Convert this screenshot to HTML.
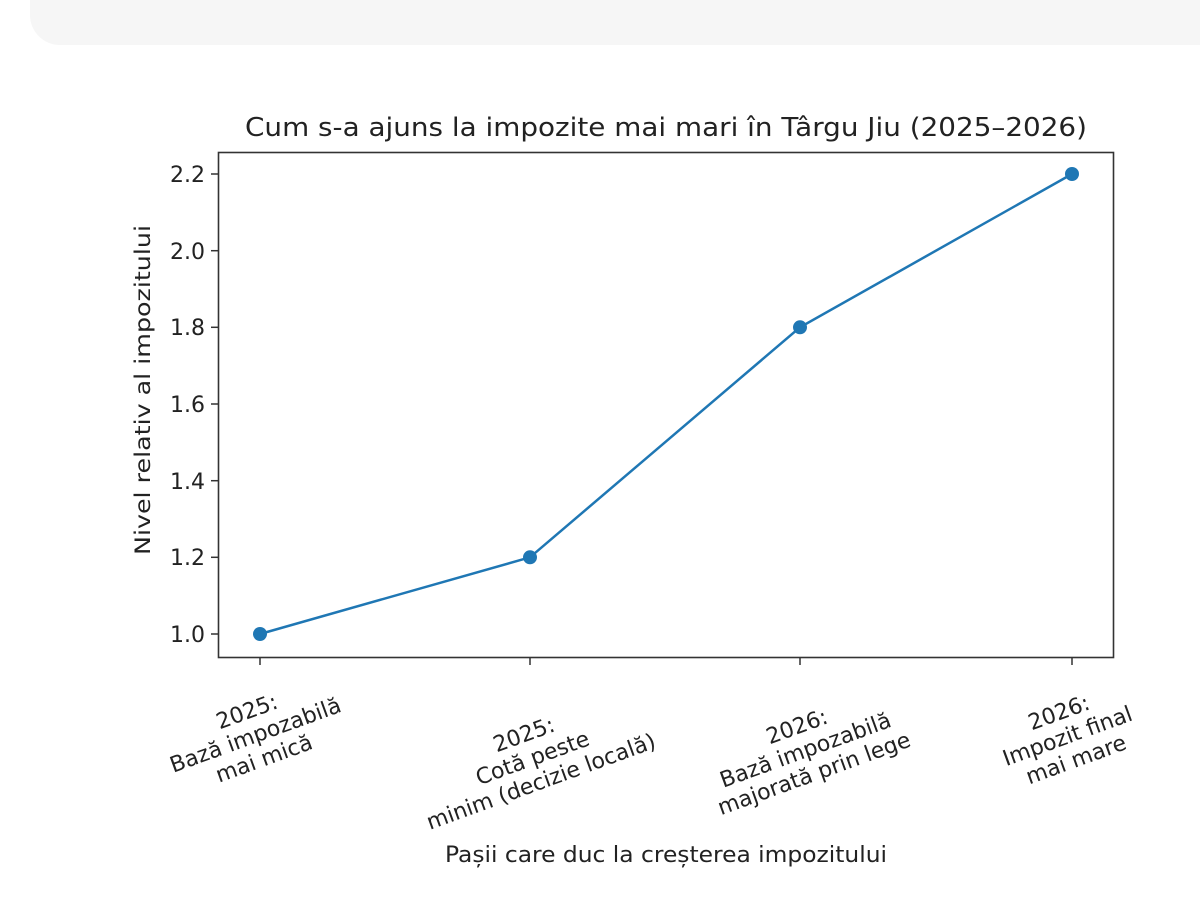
<!DOCTYPE html>
<html><head><meta charset="utf-8"><style>
html,body{margin:0;padding:0;background:#fff;}
body{width:1200px;height:900px;overflow:hidden;position:relative;font-family:"DejaVu Sans","Liberation Sans",sans-serif;}
.top{position:absolute;left:30px;top:-30px;width:1200px;height:75px;background:#f6f6f6;border-radius:30px;}
</style></head><body>
<div class="top"></div>
<svg width="1200" height="900" style="position:absolute;left:0;top:0" font-family="DejaVu Sans, Liberation Sans, sans-serif" fill="#222">
<text x="666" y="136" font-size="26" text-anchor="middle" textLength="842" lengthAdjust="spacingAndGlyphs">Cum s-a ajuns la impozite mai mari în Târgu Jiu (2025–2026)</text>
<rect x="218.5" y="152.5" width="895" height="505" fill="none" stroke="#333" stroke-width="1.6"/>
<g stroke="#333" stroke-width="1.5">
<line x1="211" x2="218" y1="634" y2="634"/><line x1="211" x2="218" y1="557.3" y2="557.3"/>
<line x1="211" x2="218" y1="480.7" y2="480.7"/><line x1="211" x2="218" y1="404" y2="404"/>
<line x1="211" x2="218" y1="327.3" y2="327.3"/><line x1="211" x2="218" y1="250.7" y2="250.7"/>
<line x1="211" x2="218" y1="174" y2="174"/>
<line x1="260" x2="260" y1="658" y2="665"/><line x1="530" x2="530" y1="658" y2="665"/>
<line x1="800" x2="800" y1="658" y2="665"/><line x1="1072" x2="1072" y1="658" y2="665"/>
</g>
<g font-size="22" text-anchor="end">
<text x="205" y="642">1.0</text><text x="205" y="565">1.2</text><text x="205" y="489">1.4</text>
<text x="205" y="412">1.6</text><text x="205" y="335">1.8</text><text x="205" y="259">2.0</text><text x="205" y="182">2.2</text>
</g>
<text transform="translate(150,390) rotate(-90)" font-size="21" text-anchor="middle" textLength="330" lengthAdjust="spacingAndGlyphs">Nivel relativ al impozitului</text>
<polyline points="260,634 530,557.3 800,327.3 1072,174" fill="none" stroke="#1f77b4" stroke-width="2.5"/>
<g fill="#1f77b4"><circle cx="260" cy="634" r="7"/><circle cx="530" cy="557.3" r="7"/><circle cx="800" cy="327.3" r="7"/><circle cx="1072" cy="174" r="7"/></g>
<g font-size="22" text-anchor="middle">
<text transform="translate(258,742) rotate(-20)"><tspan x="0" y="-25">2025:</tspan><tspan x="0" y="0">Bază impozabilă</tspan><tspan x="0" y="25">mai mică</tspan></text>
<text transform="translate(535,765) rotate(-20)"><tspan x="0" y="-25">2025:</tspan><tspan x="0" y="0">Cotă peste</tspan><tspan x="0" y="25">minim (decizie locală)</tspan></text>
<text transform="translate(808,757) rotate(-20)"><tspan x="0" y="-25">2026:</tspan><tspan x="0" y="0">Bază impozabilă</tspan><tspan x="0" y="25">majorată prin lege</tspan></text>
<text transform="translate(1070,743) rotate(-20)"><tspan x="0" y="-25">2026:</tspan><tspan x="0" y="0">Impozit final</tspan><tspan x="0" y="25">mai mare</tspan></text>
</g>
<text x="666" y="862" font-size="22" text-anchor="middle" textLength="442" lengthAdjust="spacingAndGlyphs">Pașii care duc la creșterea impozitului</text>
</svg>
</body></html>
